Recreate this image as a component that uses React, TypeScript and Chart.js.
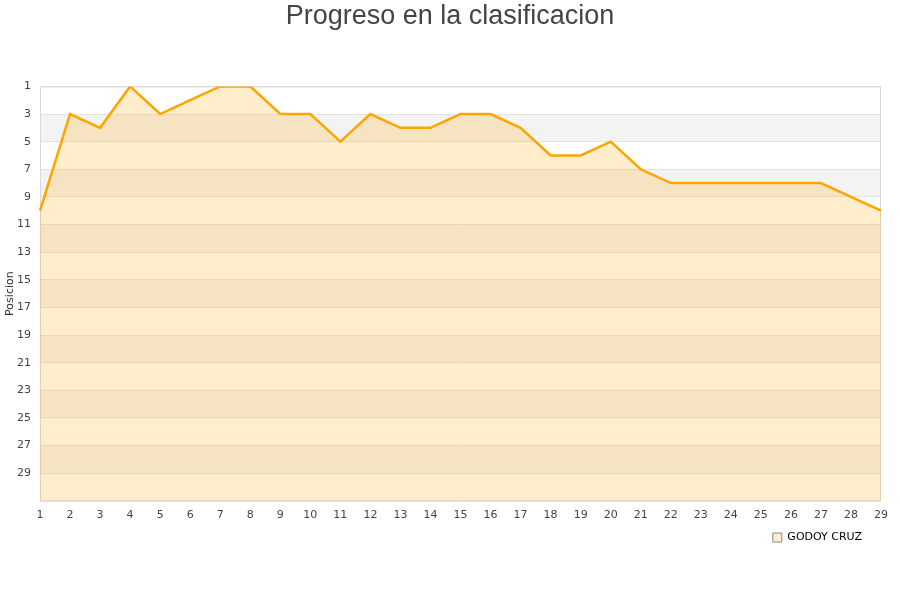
import React, { useEffect, useRef } from "react";
import { Chart, registerables } from "chart.js";

Chart.register(...registerables);

const TITLE = "Progreso en la clasificacion";
const SERIES_LABEL = "GODOY CRUZ";
const Y_TITLE = "Posicion";
const jornadas = [
  "1", "2", "3", "4", "5", "6", "7", "8", "9", "10", "11", "12", "13", "14", "15",
  "16", "17", "18", "19", "20", "21", "22", "23", "24", "25", "26", "27", "28", "29",
];
const posiciones = [
  10, 3, 4, 1, 3, 2, 1, 1, 3, 3, 5, 3, 4, 4, 3, 3, 4, 6, 6, 5, 7, 8, 8, 8, 8, 8, 8, 9, 10,
];
const Y_MIN = 1;
const Y_MAX = 31;

const bandsPlugin = {
  id: "bands",
  afterLayout(chart: any) {
    const t = chart.titleBlock;
    if (t) {
      t.left = 0;
      t.right = chart.width;
    }
    const l = chart.legend;
    if (l) {
      l.left -= 17;
      l.right -= 17;
    }
  },
  beforeDraw(chart: any) {
    const { ctx, chartArea } = chart;
    const y = chart.scales.y;
    ctx.save();
    ctx.fillStyle = "#ffffff";
    ctx.fillRect(chartArea.left, chartArea.top, chartArea.right - chartArea.left, chartArea.bottom - chartArea.top);
    ctx.fillStyle = "#f3f3f3";
    for (let v = Y_MIN + 2; v < Y_MAX; v += 4) {
      const p1 = y.getPixelForValue(v);
      const p2 = y.getPixelForValue(Math.min(v + 2, Y_MAX));
      ctx.fillRect(chartArea.left, Math.min(p1, p2), chartArea.right - chartArea.left, Math.abs(p2 - p1));
    }
    ctx.restore();
  },
  beforeDatasetsDraw(chart: any) {
    const { ctx, chartArea } = chart;
    ctx.save();
    ctx.strokeStyle = "#d9d9d9";
    ctx.lineWidth = 1;
    ctx.strokeRect(chartArea.left + 0.5, chartArea.top + 0.5, chartArea.right - chartArea.left - 1, chartArea.bottom - chartArea.top);
    ctx.restore();
  },
};

export default function App() {
  const ref = useRef<HTMLCanvasElement>(null);
  useEffect(() => {
    document.body.style.margin = "0";
    const chart = new Chart(ref.current!, {
      type: "line",
      data: {
        labels: jornadas,
        datasets: [
          {
            label: SERIES_LABEL,
            data: posiciones,
            borderColor: "#ffa500",
            backgroundColor: "rgba(255,165,0,0.2)",
            borderWidth: 2.5,
            pointRadius: 0,
            tension: 0,
            fill: { value: Y_MAX },
          },
        ],
      },
      options: {
        animation: false,
        responsive: false,
        maintainAspectRatio: false,
        layout: { padding: { left: 4, right: 19, top: 0, bottom: 47 } },
        plugins: {
          title: {
            display: true,
            text: TITLE,
            color: "#444444",
            font: { family: "'Liberation Sans', Arial, sans-serif", size: 27, weight: "normal" },
            padding: { top: 0, bottom: 54 },
          },
          legend: {
            position: "bottom",
            align: "end",
            labels: {
              color: "#000000",
              font: { family: "'DejaVu Sans', sans-serif", size: 11 },
              boxWidth: 9,
              boxHeight: 9,
              padding: 2,
              generateLabels: (c: any) =>
                c.data.datasets.map((d: any, i: number) => ({
                  text: d.label,
                  fillStyle: "rgba(255,165,0,0.2)",
                  strokeStyle: "#888888",
                  lineWidth: 1,
                  datasetIndex: i,
                  hidden: false,
                })),
            },
          },
          tooltip: { enabled: false },
        },
        scales: {
          x: {
            offset: false,
            grid: { display: false, drawTicks: false },
            border: { display: false },
            ticks: {
              color: "#444444",
              font: { family: "'DejaVu Sans', sans-serif", size: 11 },
              padding: 8,
              maxRotation: 0,
              autoSkip: false,
            },
          },
          y: {
            reverse: true,
            min: Y_MIN,
            max: Y_MAX,
            grid: { color: "#e3e3e3", drawTicks: false },
            border: { display: false },
            title: {
              display: true,
              text: Y_TITLE,
              color: "#333333",
              font: { family: "'DejaVu Sans', sans-serif", size: 11 },
              padding: { top: 0, bottom: 0 },
            },
            ticks: {
              stepSize: 2,
              color: "#444444",
              font: { family: "'DejaVu Sans', sans-serif", size: 11 },
              padding: 9,
              callback: (v: any) => (Number(v) >= Y_MAX ? "" : String(v)),
            },
            afterFit: (s: any) => {
              s.width = 36;
            },
          },
        },
      },
      plugins: [bandsPlugin],
    });
    return () => chart.destroy();
  }, []);
  return (
    <div style={{ width: 900, height: 600 }}>
      <canvas ref={ref} width={900} height={600} style={{ display: "block", width: 900, height: 600 }} />
    </div>
  );
}
